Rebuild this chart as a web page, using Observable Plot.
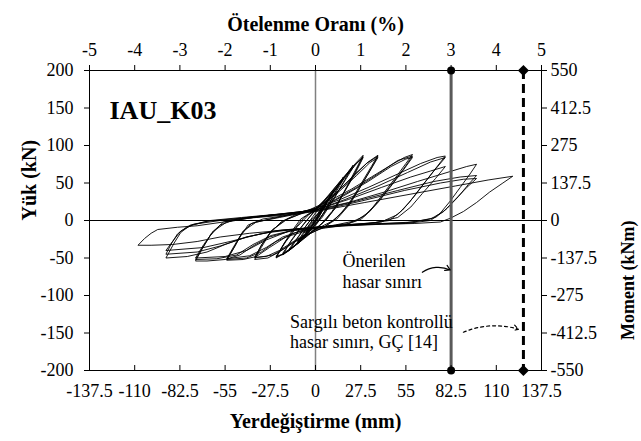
<!DOCTYPE html>
<html><head><meta charset="utf-8">
<script src="https://cdn.jsdelivr.net/npm/d3@7"></script>
<script src="https://cdn.jsdelivr.net/npm/@observablehq/plot@0.6"></script>
<style>body{margin:0;background:#fff}</style>
</head><body><div id="chart"></div>
<script>
// Axis ticks (mm and kN); top axis = drift (%) = mm / 27.5 ; right axis = moment (kNm) = kN * 2.75
const dispTicks = [-137.5,-110,-82.5,-55,-27.5,0,27.5,55,82.5,110,137.5];
const loadTicks = [-200,-150,-100,-50,0,50,100,150,200];
const limitProposed = 82.5;   // Önerilen hasar sınırı (mm)
const limitCode = 126.5;      // GÇ [14] hasar sınırı (mm)

// Hysteresis path, [displacement mm, load kN], read per drift level
const lvl1 = [[0,0],[2,8],[4,15],[6,21],[4,14],[1,3],[-2,-6],[-4,-12],[-6,-17],[-3,-8],[0,1],[3,11],[6,20],[4,13],[1,2],[-3,-9],[-6,-16],[-3,-6],[0,2]];
const lvl2 = [[4,16],[8,30],[11,40],[8,28],[4,12],[0,-2],[-5,-16],[-9,-25],[-11,-30],[-7,-17],[-3,-4],[1,8],[6,24],[11,38],[7,24],[2,4],[-4,-13],[-11,-28],[-6,-12],[-2,0]];
const lvl3 = [[3,12],[9,32],[14,48],[17,58],[13,42],[7,18],[1,-4],[-6,-20],[-12,-33],[-16,-40],[-11,-24],[-6,-8],[0,10],[8,30],[17,55],[12,36],[5,10],[-2,-10],[-10,-30],[-16,-38],[-10,-20],[-4,-2]];
const lvl4 = [[2,10],[10,34],[17,56],[23,74],[18,55],[11,28],[4,4],[-3,-12],[-10,-28],[-16,-40],[-20,-46],[-15,-28],[-9,-10],[-3,6],[6,28],[15,52],[23,71],[17,50],[9,22],[2,0],[-6,-18],[-14,-36],[-20,-44],[-14,-24],[-7,-4]];
const lvl5 = [[0,14],[8,34],[16,55],[23,73],[29,87],[25,70],[19,45],[13,20],[7,2],[0,-12],[-8,-26],[-16,-40],[-24,-50],[-20,-34],[-15,-16],[-9,2],
              [-2,12],[8,32],[17,56],[24,74],[29,85],[24,64],[18,40],[12,16],[5,-2],[-3,-16],[-12,-32],[-19,-44],[-24,-49],[-19,-30],[-13,-12],[-7,4],
              [0,14],[10,36],[19,60],[25,76],[29,84],[24,62],[17,36],[10,12],[3,-6],[-5,-20],[-14,-36],[-20,-45],[-24,-48],[-18,-28],[-11,-8],[-4,8]];
const lvl6 = [[4,18],[14,40],[24,62],[32,78],[38,87],[34,72],[28,50],[22,28],[15,8],[6,-8],[-4,-18],[-14,-30],[-22,-42],[-29,-50],[-37,-52],[-33,-36],[-28,-18],[-21,-2],[-12,8],
              [0,16],[12,36],[23,58],[31,76],[38,86],[33,66],[27,44],[21,22],[13,2],[4,-10],[-8,-22],[-18,-36],[-26,-46],[-37,-50],[-33,-33],[-27,-14],[-19,0],[-10,8],
              [0,15],[13,36],[25,60],[33,77],[38,84],[32,62],[26,40],[19,18],[11,0],[0,-12],[-12,-26],[-22,-40],[-30,-48],[-37,-49],[-32,-30],[-26,-12],[-17,2],[-8,10]];
const lvl7 = [[0,18],[10,28],[22,42],[34,58],[46,74],[54,84],[59,88],[55,76],[49,58],[42,38],[35,18],[28,2],[18,-6],[6,-10],[-6,-14],[-18,-22],[-28,-36],[-36,-48],[-44,-52],[-54,-53],[-50,-38],[-46,-22],[-41,-6],[-32,2],[-20,6],[-8,12],
              [0,16],[12,28],[25,44],[38,62],[50,80],[59,86],[54,70],[47,50],[40,30],[33,12],[25,0],[12,-6],[0,-10],[-12,-16],[-24,-28],[-33,-42],[-42,-50],[-54,-52],[-49,-34],[-45,-18],[-39,-4],[-28,2],[-15,8],[-4,14],
              [6,20],[18,34],[32,52],[46,72],[55,82],[59,84],[53,66],[46,46],[38,24],[30,6],[20,-4],[6,-8],[-8,-13],[-20,-22],[-30,-36],[-40,-47],[-54,-51],[-49,-32],[-44,-14],[-36,-2],[-22,4],[-8,10]];
const lvl8 = [[0,16],[15,28],[32,44],[50,62],[64,76],[74,84],[79,86],[74,72],[67,52],[60,32],[53,14],[45,0],[32,-4],[15,-6],[0,-10],[-15,-14],[-28,-22],[-38,-34],[-46,-46],[-55,-52],[-66,-54],[-73,-54],[-69,-38],[-64,-20],[-58,-6],[-48,2],[-32,6],[-15,10],
              [0,14],[18,28],[38,46],[56,64],[70,78],[79,84],[72,66],[64,44],[57,24],[50,8],[40,-2],[24,-5],[6,-8],[-12,-12],[-27,-20],[-38,-32],[-48,-46],[-60,-51],[-73,-52],[-68,-34],[-63,-16],[-56,-2],[-42,4],[-24,8],[-8,12],
              [0,14],[20,28],[40,44],[58,58],[70,66],[79,72],[73,56],[65,36],[58,18],[50,4],[36,-3],[18,-6],[0,-9],[-16,-14],[-30,-26],[-42,-40],[-55,-48],[-73,-50],[-68,-32],[-62,-14],[-54,-2],[-38,4],[-20,8],[-4,12]];
const lvl9 = [[0,14],[20,24],[42,38],[62,52],[80,64],[92,72],[98,75],[94,62],[88,44],[82,26],[76,10],[70,0],[55,-4],[35,-5],[15,-7],[-5,-10],[-25,-14],[-42,-22],[-55,-32],[-66,-42],[-78,-48],[-91,-50],[-88,-38],[-86,-30],[-82,-16],[-76,-6],[-64,0],[-45,4],[-25,8],[-8,12],
              [2,14],[25,26],[50,40],[72,52],[88,58],[98,60],[93,48],[87,32],[80,16],[73,4],[60,-2],[40,-4],[20,-6],[0,-9],[-22,-13],[-42,-22],[-58,-34],[-72,-42],[-91,-45],[-88,-32],[-84,-18],[-78,-8],[-66,-1],[-46,3],[-26,7],[-8,11],
              [2,13],[28,26],[54,40],[76,50],[90,55],[98,56],[92,44],[85,28],[78,12],[70,2],[55,-3],[33,-5],[12,-7],[-10,-11],[-32,-17],[-52,-28],[-68,-36],[-91,-40],[-87,-28],[-82,-14],[-74,-5],[-58,0],[-36,4],[-14,8]];
const lvl10 = [[0,12],[30,24],[60,36],[85,46],[105,54],[120,59],[114,50],[106,38],[98,24],[90,12],[82,3],[76,-2],[60,-4],[40,-5],[20,-7],[0,-10],[-20,-13],[-40,-17],[-58,-22],[-72,-28],[-87,-32],[-100,-33],[-108,-33],[-104,-24],[-100,-17],[-96,-12],[-84,-9],[-72,-7],[-56,-2],[-41,3],[-25,8]];

const path = [...lvl1,...lvl2,...lvl3,...lvl4,...lvl5,...lvl6,...lvl7,...lvl8,...lvl9,...lvl10].map(([d,f]) => ({d, f}));
const fmt = v => String(Math.round(v * 100) / 100 + 0);
const yMin = loadTicks[0], yMax = loadTicks[loadTicks.length - 1];
const serif = "'Liberation Serif', 'Times New Roman', serif";

const chart = Plot.plot({
  width: 641, height: 441,
  marginLeft: 89, marginRight: 100, marginTop: 70, marginBottom: 71,
  style: {fontFamily: serif, fontSize: "18px", background: "#fff", color: "#000", overflow: "visible"},
  x: {domain: [dispTicks[0], dispTicks[dispTicks.length - 1]]},
  y: {domain: [yMin, yMax]},
  marks: [
    Plot.ruleX([0], {stroke: "#808080", strokeWidth: 1.5}),
    Plot.ruleY([0], {stroke: "#000", strokeWidth: 1.2}),
    Plot.line(path, {x: "d", y: "f", stroke: "#000", strokeWidth: 0.9, strokeLinejoin: "round"}),
    Plot.ruleX([limitProposed], {stroke: "#5a5a5a", strokeWidth: 3}),
    Plot.ruleX([limitCode], {stroke: "#000", strokeWidth: 3, strokeDasharray: "9,5"}),
    Plot.dot([yMin, yMax], {x: () => limitProposed, y: d => d, r: 4, fill: "#000", stroke: null}),
    Plot.dot([yMin, yMax], {x: () => limitCode, y: d => d, r: 5, symbol: "diamond2", fill: "#000", stroke: null}),
    Plot.frame({stroke: "#000", strokeWidth: 1}),
    Plot.axisX({anchor: "bottom", ticks: dispTicks, tickFormat: fmt, tickSize: 5, dy: -5, tickPadding: 14, label: null}),
    Plot.axisX({anchor: "top", ticks: dispTicks, tickFormat: d => fmt(d / 27.5), tickSize: 6, tickPadding: 9, label: null}),
    Plot.axisY({anchor: "left", ticks: loadTicks, tickFormat: fmt, tickSize: 5, tickPadding: 11, label: null}),
    Plot.axisY({anchor: "right", ticks: loadTicks, tickFormat: d => fmt(d * 2.75), tickSize: 5, tickPadding: 4, label: null}),
    Plot.text(["IAU_K03"], {frameAnchor: "top-left", dx: 20, dy: 30, textAnchor: "start", fontWeight: "bold", fontSize: 26}),
    Plot.text(["Ötelenme Oranı (%)"], {frameAnchor: "top", dy: -54, fontWeight: "bold", fontSize: 20}),
    Plot.text(["Yerdeğiştirme (mm)"], {frameAnchor: "bottom", dy: 57, fontWeight: "bold", fontSize: 20}),
    Plot.text(["Yük (kN)"], {frameAnchor: "left", dx: -60, rotate: -90, fontWeight: "bold", fontSize: 20}),
    Plot.text(["Moment (kNm)"], {frameAnchor: "right", dx: 87, rotate: -90, fontWeight: "bold", fontSize: 18}),
    Plot.text(["Önerilen\nhasar sınırı"], {x: 16.5, y: -67, textAnchor: "start", fontSize: 18, lineHeight: 1.15}),
    Plot.text(["Sargılı beton kontrollü\nhasar sınırı, GÇ [14]"], {x: -15.5, y: -148, textAnchor: "start", fontSize: 18, lineHeight: 1.15}),
    Plot.arrow([0], {x1: 65, y1: -69, x2: 82, y2: -66, bend: 30, stroke: "#000", strokeWidth: 1.2, headLength: 7}),
    Plot.arrow([0], {x1: 90, y1: -149, x2: 123.5, y2: -145, bend: 20, stroke: "#000", strokeWidth: 1.2, headLength: 7, strokeDasharray: "3,3"})
  ]
});
document.getElementById("chart").append(chart);
</script>
</body></html>
